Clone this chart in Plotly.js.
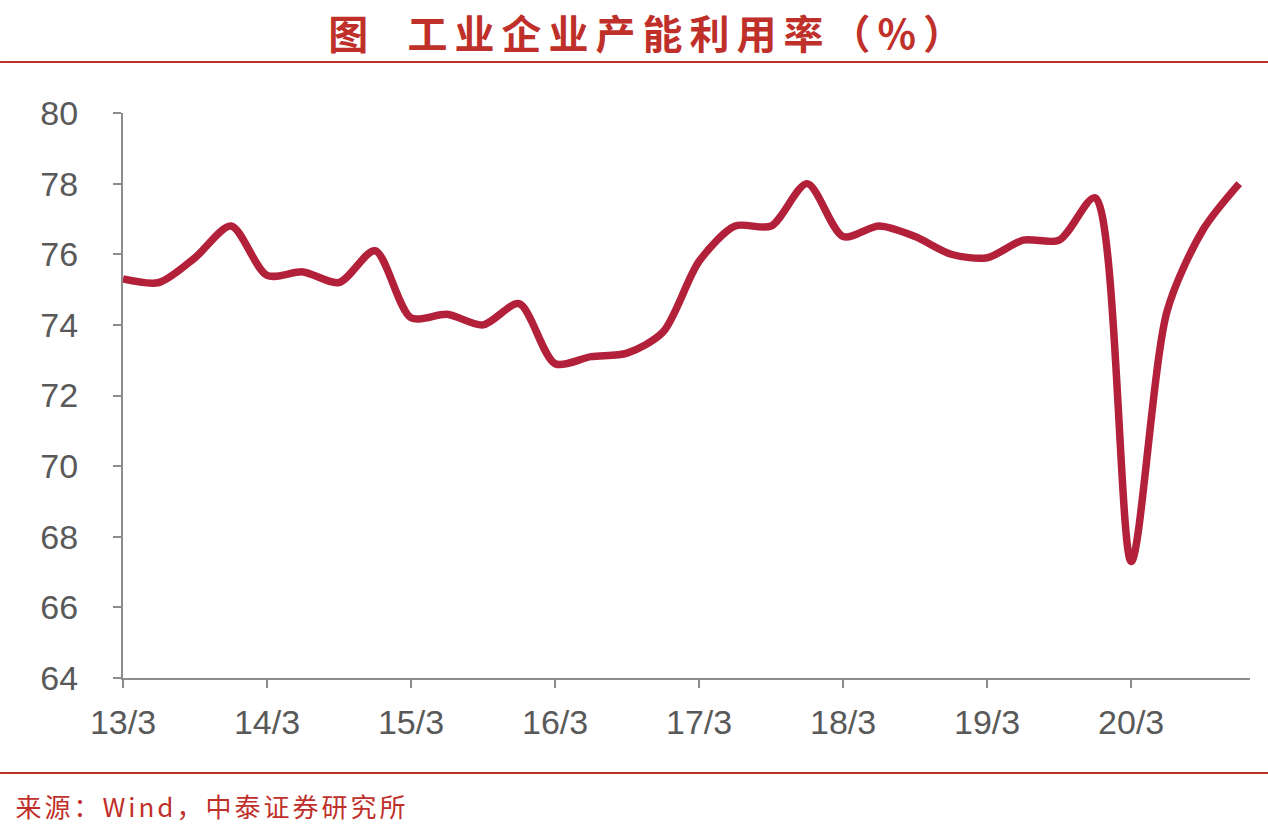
<!DOCTYPE html>
<html><head><meta charset="utf-8">
<script src="https://cdn.plot.ly/plotly-3.0.1.min.js"></script>
<style>html,body{margin:0;padding:0;background:#fff;}#chart{width:1268px;height:832px;}</style>
</head><body><div id="chart"></div>
<script>
const quarters = ["13/3","13/6","13/9","13/12","14/3","14/6","14/9","14/12","15/3","15/6","15/9","15/12","16/3","16/6","16/9","16/12","17/3","17/6","17/9","17/12","18/3","18/6","18/9","18/12","19/3","19/6","19/9","19/12","20/3","20/6","20/9","20/12"];
const utilization = [75.3,75.2,75.9,76.8,75.4,75.5,75.2,76.1,74.2,74.3,74.0,74.6,72.9,73.1,73.2,73.8,75.8,76.8,76.8,78.0,76.5,76.8,76.5,76.0,75.9,76.4,76.4,77.6,67.3,74.4,76.7,78.0];
const tickLabels = ["13/3","14/3","15/3","16/3","17/3","18/3","19/3","20/3"];
const yTicks = [64,66,68,70,72,74,76,78,80];

const xIdx = quarters.map((q,i)=>i);
const tickVals = tickLabels.map(t=>quarters.indexOf(t));

const trace = {
  x: xIdx, y: utilization, type:'scatter', mode:'lines',
  line:{color:'#B3203A', width:7.5, shape:'spline', smoothing:0.8},
  hoverinfo:'skip'
};
const red = '#C0302A';
const layout = {
  width:1268, height:832,
  margin:{l:123, r:18, t:113, b:154},
  paper_bgcolor:'#ffffff', plot_bgcolor:'#ffffff',
  showlegend:false,
  title:{text:'图  工业企业产能利用率（%）', x:0.512, xanchor:'center', y:0.958, yanchor:'middle',
    font:{family:'"Noto Sans CJK SC", sans-serif', size:40, color:red, weight:700}},
  xaxis:{range:[0,31.3], tickvals:tickVals, ticktext:tickLabels, showgrid:false, zeroline:false,
    showline:true, linecolor:'#8c8c8c', linewidth:2, ticks:'outside', ticklen:8, tickwidth:2, tickcolor:'#8c8c8c',
    ticklabelstandoff:5,
    tickfont:{family:'"Liberation Sans", Arial, sans-serif', size:34, color:'#595959'}},
  yaxis:{range:[64,80], tickvals:yTicks, showgrid:false, zeroline:false,
    showline:true, linecolor:'#8c8c8c', linewidth:2, ticks:'outside', ticklen:8, tickwidth:2, tickcolor:'#8c8c8c',
    ticklabelstandoff:28,
    tickfont:{family:'"Liberation Sans", Arial, sans-serif', size:34, color:'#595959'}},
  shapes:[
    {type:'line', xref:'paper', yref:'paper', x0:-0.1091, x1:1.016, y0:(678-62)/565, y1:(678-62)/565, line:{color:red, width:2}},
    {type:'line', xref:'paper', yref:'paper', x0:-0.1091, x1:1.016, y0:(678-773)/565, y1:(678-773)/565, line:{color:red, width:2}}
  ],
  annotations:[
    {text:'来源：Wind，中泰证券研究所', xref:'paper', yref:'paper', x:(36-123)/1127, xanchor:'left', y:(678-805)/565, yanchor:'middle',
     showarrow:false, font:{family:'"Noto Sans CJK SC", sans-serif', size:26, color:red}}
  ]
};
Plotly.newPlot('chart',[trace],layout,{displayModeBar:false, staticPlot:true}).then(()=>{
  const t = document.querySelector('.gtitle');
  if (t) t.style.letterSpacing = '7px';
  const a = document.querySelector('.annotation-text');
  if (a) a.style.letterSpacing = '3px';
});
</script></body></html>
